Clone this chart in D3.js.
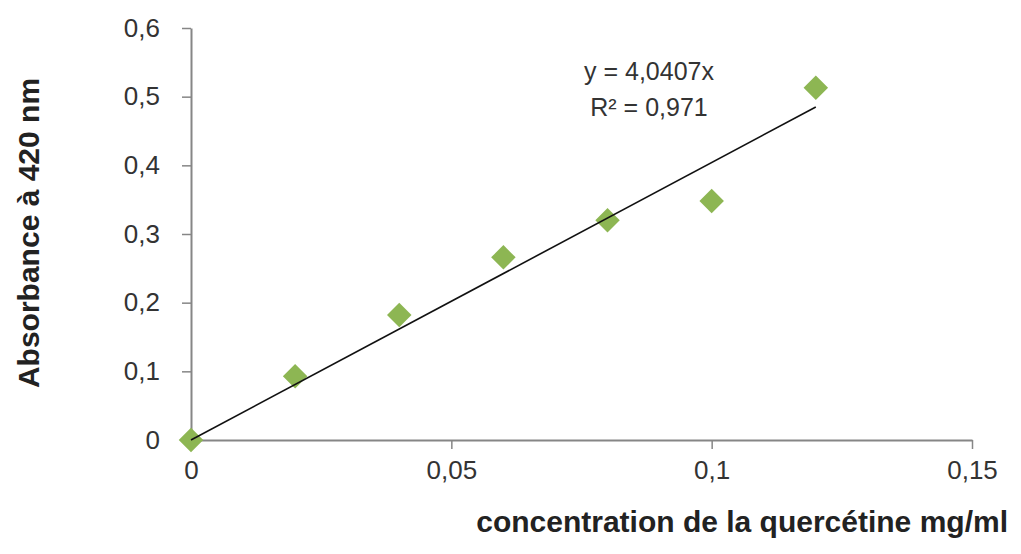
<!DOCTYPE html>
<html><head><meta charset="utf-8">
<script src="https://cdn.jsdelivr.net/npm/d3@7"></script>
<style>body{margin:0;background:#fff}svg{display:block}text{font-family:"Liberation Sans",Arial,sans-serif}</style>
</head><body>
<svg id="c" width="1021" height="554"></svg>
<script>
const concentration = [0, 0.02, 0.04, 0.06, 0.08, 0.10, 0.12];
const absorbance = [0, 0.093, 0.182, 0.266, 0.320, 0.348, 0.513];
const slope = 4.0407;
const eqLines = ["y = 4,0407x", "R² = 0,971"];
const xTicks = [0, 0.05, 0.1, 0.15];
const yTicks = [0, 0.1, 0.2, 0.3, 0.4, 0.5, 0.6];
const xTitle = "concentration de la quercétine mg/ml";
const yTitle = "Absorbance à 420 nm";

const svg = d3.select("#c");
const x = d3.scaleLinear().domain([0, 0.15]).range([191, 972]);
const y = d3.scaleLinear().domain([0, 0.6]).range([440, 28]);
const fmt = d => String(+d.toFixed(2)).replace(".", ",");
const axisColor = "#868686";

const xa = svg.append("g").attr("transform", "translate(0,440)")
  .call(d3.axisBottom(x).tickValues(xTicks).tickFormat(fmt).tickSizeInner(9).tickSizeOuter(0).tickPadding(12));
const ya = svg.append("g").attr("transform", "translate(191,0)")
  .call(d3.axisLeft(y).tickValues(yTicks).tickFormat(fmt).tickSizeInner(9).tickSizeOuter(0).tickPadding(22));
[xa, ya].forEach(a => {
  a.select(".domain").attr("stroke", axisColor).attr("stroke-width", 2);
  a.selectAll(".tick line").attr("stroke", axisColor).attr("stroke-width", 1.5);
  a.selectAll(".tick text").attr("fill", "#333").style("font-size", "26px").style("font-family", "Liberation Sans, Arial, sans-serif");
});

// markers
svg.append("g").selectAll("path").data(concentration).join("path")
  .attr("d", d3.symbol(d3.symbolSquare, 300))
  .attr("transform", (d, i) => `translate(${x(d)},${y(absorbance[i])}) rotate(45)`)
  .attr("fill", "#8db653");

// trendline
const xmax = d3.max(concentration);
svg.append("line")
  .attr("x1", x(0)).attr("y1", y(0))
  .attr("x2", x(xmax)).attr("y2", y(slope * xmax))
  .attr("stroke", "#111").attr("stroke-width", 1.6);

// equation
svg.append("g").selectAll("text").data(eqLines).join("text")
  .attr("x", 649).attr("y", (d, i) => 80 + i * 36)
  .attr("text-anchor", "middle").attr("fill", "#333").style("font-size", "25px")
  .text(d => d);

// titles
svg.append("text").attr("x", 1008).attr("y", 532).attr("text-anchor", "end")
  .attr("fill", "#222").style("font-size", "30px").style("font-weight", "bold").text(xTitle);
svg.append("text").attr("transform", "translate(39,233) rotate(-90)").attr("text-anchor", "middle")
  .attr("fill", "#222").style("font-size", "30px").style("font-weight", "bold").text(yTitle);
</script>
</body></html>
